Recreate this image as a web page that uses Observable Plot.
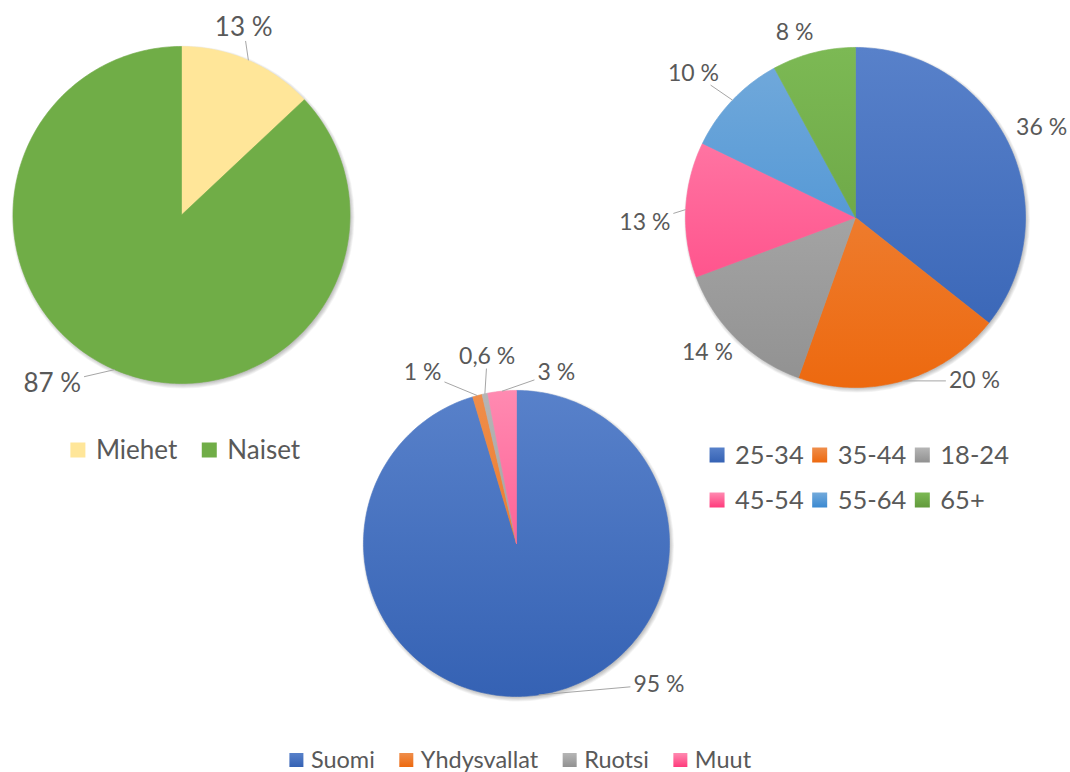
<!DOCTYPE html>
<html>
<head>
<meta charset="utf-8">
<script src="https://cdn.jsdelivr.net/npm/d3@7"></script>
<script src="https://cdn.jsdelivr.net/npm/@observablehq/plot@0.6"></script>
<style>
  html, body { margin: 0; padding: 0; background: #ffffff; }
  svg { display: block; }
</style>
</head>
<body>
<div id="chart"></div>
<script>
// ---------------- data ----------------
const genderCategories = ["Miehet", "Naiset"];
const genderValues = [13, 87];
const genderLabels = ["13 %", "87 %"];

const ageCategories = ["25-34", "35-44", "18-24", "45-54", "55-64", "65+"];
const ageValues = [36, 20, 14, 13, 10, 8];
const ageLabels = ["36 %", "20 %", "14 %", "13 %", "10 %", "8 %"];

const countryCategories = ["Suomi", "Yhdysvallat", "Ruotsi", "Muut"];
const countryValues = [95, 1, 0.6, 3];
const countryLabels = ["95 %", "1 %", "0,6 %", "3 %"];

// ---------------- styles ----------------
const genderColors = ["#FFE699", "#70AD47"];
const ageColors = ["#4472C4", "#ED7D31", "#A5A5A5", "#FF6699", "#5B9BD5", "#70AD47"];
const countryColors = ["#4472C4", "#ED7D31", "#A5A5A5", "#FF6699"];

const W = 1070, H = 772;
const FONT_FAMILY = "Lato, 'Noto Sans', sans-serif";
const TEXT_COLOR = "#595959";
const LEADER_COLOR = "#A6A6A6";

// ---------------- layout ----------------
const charts = [
  {
    key: "gender", categories: genderCategories, values: genderValues, labels: genderLabels, colors: genderColors,
    cx: 181, cy: 214.5, r: 168.5, labelSize: 26, labelGap: 10, gradient: false,
    nudge: {"13 %": [-5, 0], "87 %": [14, 9]},
    legend: {top: 450, size: 26, swatch: 15, textGap: 10, itemGap: 25, cols: 0, rowGap: 0, shift: 4}
  },
  {
    key: "age", categories: ageCategories, values: ageValues, labels: ageLabels, colors: ageColors,
    cx: 855, cy: 217, r: 170, labelSize: 23, labelGap: 10, gradient: true,
    nudge: {"20 %": [-20, 0], "14 %": [3, -4], "13 %": [-4, 5], "10 %": [-2, 12], "8 %": [-4, 0]},
    legend: {top: 455, size: 25.5, swatch: 15, textGap: 10, itemGap: 9, cols: 3, rowGap: 45, shift: 4}
  },
  {
    key: "country", categories: countryCategories, values: countryValues, labels: countryLabels, colors: countryColors,
    cx: 516, cy: 543, r: 153, labelSize: 23, labelGap: 10, gradient: true,
    nudge: {"95 %": [-37, 13], "1 %": [-14, 15], "0,6 %": [3, 13], "3 %": [18.5, 0]},
    legend: {top: 760, size: 23.5, swatch: 14, textGap: 7, itemGap: 25, cols: 0, rowGap: 0, shift: 4}
  }
];

const ctx = document.createElement("canvas").getContext("2d");
function textWidth(s, size) {
  ctx.font = `${size}px ${FONT_FAMILY}`;
  return ctx.measureText(s).width;
}
function shade(col) {
  const h = d3.hsl(col);
  return {
    top: d3.hsl(h.h, h.s, Math.min(0.95, h.l * 1.1)).formatHex(),
    bottom: d3.hsl(h.h, Math.min(1, h.s * 1.05), h.l * 0.88).formatHex()
  };
}

const gradients = [];
const marks = [];

for (const c of charts) {
  // pie fills: one vertical gradient across the whole pie; legend swatches: own small gradient
  const fills = [], swatchFills = [];
  c.colors.forEach((col, i) => {
    if (!c.gradient) { fills.push(col); swatchFills.push(col); return; }
    const {top, bottom} = shade(col);
    const idPie = `grad-${c.key}-${i}`, idSw = `grad-${c.key}-sw-${i}`;
    gradients.push({id: idPie, top, bottom, user: true, y1: c.cy - c.r, y2: c.cy + c.r});
    gradients.push({id: idSw, top, bottom, user: false});
    fills.push(`url(#${idPie})`);
    swatchFills.push(`url(#${idSw})`);
  });

  const arcs = d3.pie().sort(null).value(d => d)(c.values);

  // soft shadow rings under the pie
  const shadow = d3.range(6).map(k => ({x: c.cx + 1.5, y: c.cy + 2, r: c.r + 3 - k * 0.8}));
  for (const s of shadow) {
    marks.push(Plot.dot([s], {x: "x", y: "y", r: s.r, fill: "#000000", fillOpacity: 0.045, stroke: "none"}));
  }

  // slice polygons
  const pts = [];
  arcs.forEach((a, i) => {
    const span = a.endAngle - a.startAngle;
    const n = Math.max(2, Math.ceil(span / (Math.PI / 180)));
    pts.push({slice: `${c.key}-${i}`, fill: fills[i], x: c.cx, y: c.cy});
    for (let k = 0; k <= n; k++) {
      const t = a.startAngle + span * k / n;
      pts.push({slice: `${c.key}-${i}`, fill: fills[i], x: c.cx + c.r * Math.sin(t), y: c.cy - c.r * Math.cos(t)});
    }
    pts.push({slice: `${c.key}-${i}`, fill: fills[i], x: c.cx, y: c.cy});
  });
  marks.push(Plot.line(pts, {
    x: "x", y: "y", z: "slice", fill: "fill", stroke: "fill", strokeWidth: 0.6, curve: "linear"
  }));

  // data labels + leader lines
  const lab = [], leaders = [];
  arcs.forEach((a, i) => {
    const text = c.labels[i];
    const mid = (a.startAngle + a.endAngle) / 2;
    const [shiftDeg, extra] = c.nudge[text] || [0, 0];
    const th = mid + shiftDeg * Math.PI / 180;
    const hw = textWidth(text, c.labelSize) / 2;
    const hh = c.labelSize * 0.38;
    const e = hw * Math.abs(Math.sin(th)) + hh * Math.abs(Math.cos(th));
    const d = c.r + c.labelGap + e + extra;
    const lx = c.cx + d * Math.sin(th), ly = c.cy - d * Math.cos(th);
    lab.push({x: lx, y: ly, text});
    const px = c.cx + c.r * Math.sin(mid), py = c.cy - c.r * Math.cos(mid);
    const dx = lx - px, dy = ly - py;
    const bx = hw + 3, by = hh + 3;
    const s = Math.min(dx === 0 ? Infinity : bx / Math.abs(dx), dy === 0 ? Infinity : by / Math.abs(dy));
    const len = (1 - s) * Math.hypot(dx, dy);
    if (s < 1 && len > 12) {
      leaders.push({x1: px, y1: py, x2: lx - s * dx, y2: ly - s * dy});
    }
  });
  marks.push(Plot.link(leaders, {x1: "x1", y1: "y1", x2: "x2", y2: "y2", stroke: LEADER_COLOR, strokeWidth: 1}));
  marks.push(Plot.text(lab, {x: "x", y: "y", text: "text", fontSize: c.labelSize, fill: TEXT_COLOR, textAnchor: "middle"}));

  // legend
  const L = c.legend;
  const items = c.categories.map((cat, i) => ({
    cat, fill: swatchFills[i], w: L.swatch + L.textGap + textWidth(cat, L.size)
  }));
  const sw = [], tx = [];
  if (L.cols > 0) {
    const maxW = d3.max(items, d => d.w);
    const colW = maxW + L.itemGap;
    const gridW = (L.cols - 1) * colW + maxW;
    const left = c.cx + L.shift - gridW / 2;
    items.forEach((it, i) => {
      const col = i % L.cols, row = Math.floor(i / L.cols);
      const x0 = left + col * colW, yc = L.top + row * L.rowGap;
      sw.push({x1: x0, x2: x0 + L.swatch, y1: yc - L.swatch / 2, y2: yc + L.swatch / 2, fill: it.fill});
      tx.push({x: x0 + L.swatch + L.textGap, y: yc, text: it.cat});
    });
  } else {
    const total = d3.sum(items, d => d.w) + L.itemGap * (items.length - 1);
    let x0 = c.cx + L.shift - total / 2;
    items.forEach(it => {
      const yc = L.top;
      sw.push({x1: x0, x2: x0 + L.swatch, y1: yc - L.swatch / 2, y2: yc + L.swatch / 2, fill: it.fill});
      tx.push({x: x0 + L.swatch + L.textGap, y: yc, text: it.cat});
      x0 += it.w + L.itemGap;
    });
  }
  marks.push(Plot.rect(sw, {x1: "x1", x2: "x2", y1: "y1", y2: "y2", fill: "fill"}));
  marks.push(Plot.text(tx, {x: "x", y: "y", text: "text", fontSize: L.size, fill: TEXT_COLOR, textAnchor: "start"}));
}

const svg = Plot.plot({
  width: W,
  height: H,
  margin: 0,
  x: {domain: [0, W], range: [0, W], axis: null},
  y: {domain: [0, H], range: [0, H], axis: null},
  color: {type: "identity"},
  style: {fontFamily: FONT_FAMILY, background: "#ffffff", overflow: "visible"},
  marks
});

// gradient definitions
const yScale = svg.scale("y");
const ns = "http://www.w3.org/2000/svg";
const defs = document.createElementNS(ns, "defs");
for (const g of gradients) {
  const lg = document.createElementNS(ns, "linearGradient");
  lg.setAttribute("id", g.id);
  if (g.user) {
    lg.setAttribute("gradientUnits", "userSpaceOnUse");
    lg.setAttribute("x1", "0"); lg.setAttribute("x2", "0");
    lg.setAttribute("y1", String(yScale.apply(g.y1)));
    lg.setAttribute("y2", String(yScale.apply(g.y2)));
  } else {
    lg.setAttribute("x1", "0"); lg.setAttribute("y1", "0");
    lg.setAttribute("x2", "0"); lg.setAttribute("y2", "1");
  }
  const s1 = document.createElementNS(ns, "stop");
  s1.setAttribute("offset", "0"); s1.setAttribute("stop-color", g.top);
  const s2 = document.createElementNS(ns, "stop");
  s2.setAttribute("offset", "1"); s2.setAttribute("stop-color", g.bottom);
  lg.appendChild(s1); lg.appendChild(s2);
  defs.appendChild(lg);
}
svg.insertBefore(defs, svg.firstChild);

document.getElementById("chart").appendChild(svg);
</script>
</body>
</html>
